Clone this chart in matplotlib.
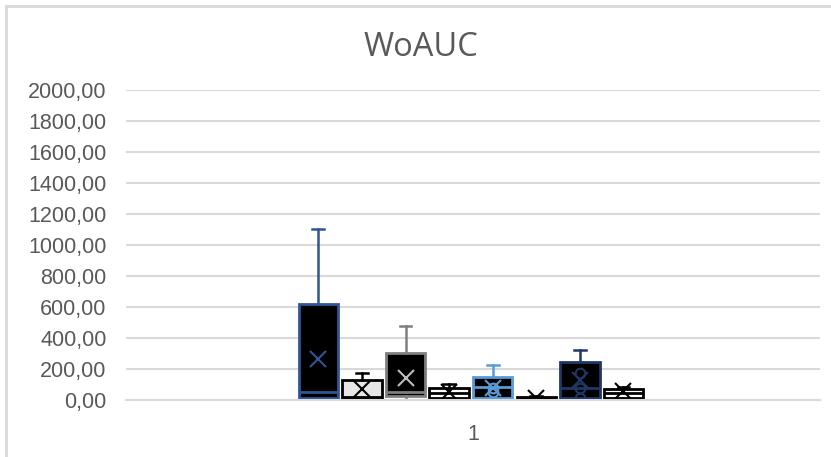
import matplotlib.pyplot as plt
from matplotlib.patches import Rectangle
from matplotlib.ticker import FuncFormatter

# values (one box per series)
q1 = [13, 13, 26, 13, 13, 0, 13, 13]
median = [52, 20, 52, 45, 84, 8, 77, 45]
q3 = [619, 129, 303, 77, 148, 20, 245, 71]
whisker_low = [0, 0, 0, 0, 0, 0, 0, 0]
whisker_high = [1103, 174, 477, 103, 226, 25, 323, 84]
means = [265, 71, 142, 52, 77, 15, 130, 58]
outliers = [[], [], [], [], [77, 50], [], [174, 77, 13], []]

edge_colors = ['#2F5597', 'black', '#7F7F7F', 'black', '#5B9BD5', 'black', '#203864', 'black']
face_colors = ['black', '#E7E6E6', 'black', 'white', 'black', 'black', 'black', 'white']

stats = []
for i in range(len(median)):
    stats.append({'q1': q1[i], 'med': median[i], 'q3': q3[i],
                  'whislo': whisker_low[i], 'whishi': whisker_high[i],
                  'mean': means[i], 'fliers': outliers[i]})

fig = plt.figure(figsize=(8.31, 4.57), dpi=100)
ax = fig.add_axes([126 / 831, 57 / 457, 694 / 831, 310 / 457])

n = len(stats)
step = 0.0628
positions = [0.497 + (i - (n - 1) / 2) * step for i in range(n)]

bp = ax.bxp(stats, positions=positions, widths=0.057, patch_artist=True,
            showmeans=True, capwidths=0.017, manage_ticks=False)

for i in range(n):
    ec = edge_colors[i]
    dark = face_colors[i] == 'black' and ec != 'black'
    inner = ec if dark else 'black'
    bp['boxes'][i].set(facecolor=face_colors[i], edgecolor=ec, linewidth=2)
    bp['medians'][i].set(color=inner, linewidth=2)
    for w in bp['whiskers'][2 * i:2 * i + 2]:
        w.set(color=ec, linewidth=1.8)
    for c in bp['caps'][2 * i:2 * i + 2]:
        c.set(color=ec, linewidth=1.8)
    mean_color = '#BFBFBF' if ec == '#7F7F7F' else inner
    bp['means'][i].set(marker='x', markersize=12, markeredgewidth=1.5,
                       markeredgecolor=mean_color)
    bp['fliers'][i].set(marker='o', markersize=7, markerfacecolor='none',
                        markeredgecolor=inner, markeredgewidth=1.5)

ax.set_xlim(0, 1)
ax.set_ylim(0, 2000)
ax.set_yticks(range(0, 2001, 200))
ax.yaxis.set_major_formatter(FuncFormatter(lambda v, p: f"{v:.2f}".replace('.', ',')))
ax.set_xticks([0.5])
ax.set_xticklabels(['1'])
ax.tick_params(axis='y', length=0, pad=14, labelsize=15.5, labelcolor='#595959')
ax.tick_params(axis='x', length=0, pad=17, labelsize=15.5, labelcolor='#595959')
for lab in ax.get_xticklabels() + ax.get_yticklabels():
    lab.set_fontfamily('Liberation Sans')

ax.grid(axis='y', color='#D9D9D9', linewidth=1.5)
ax.set_axisbelow(True)
for side in ['top', 'right', 'left']:
    ax.spines[side].set_visible(False)
ax.spines['bottom'].set_color('#D9D9D9')
ax.spines['bottom'].set_linewidth(1.5)

fig.text(0.507, 1 - 47 / 457, 'WoAUC', ha='center', va='center', fontsize=23.5,
         color='#595959', fontfamily='Open Sans')

# outer chart border (cut off on right and bottom)
fig.patches.append(Rectangle((6 / 831, -0.1), 1.1, 1 - 6 / 457 + 0.1,
                             transform=fig.transFigure, fill=False,
                             edgecolor='#D9D9D9', linewidth=2))

fig.savefig('out.png', dpi=100)
